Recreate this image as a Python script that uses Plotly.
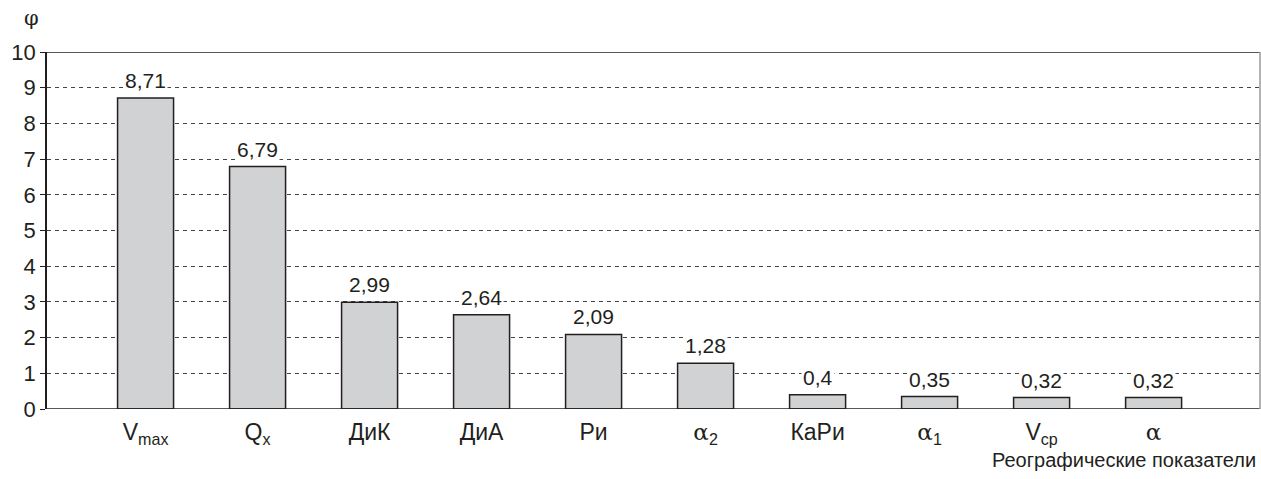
import plotly.graph_objects as go

categories = ["V<sub>max</sub>", "Q<sub>x</sub>", "ДиК", "ДиА", "Ри",
              "<span style='font-family:DejaVu Serif'>α</span><sub>2</sub>", "КаРи",
              "<span style='font-family:DejaVu Serif'>α</span><sub>1</sub>", "V<sub>ср</sub>",
              "<span style='font-family:DejaVu Serif'>α</span>"]
values = [8.71, 6.79, 2.99, 2.64, 2.09, 1.28, 0.4, 0.35, 0.32, 0.32]
labels = ["8,71", "6,79", "2,99", "2,64", "2,09", "1,28", "0,4", "0,35", "0,32", "0,32"]
yticks = list(range(0, 11))

FONT = "Liberation Sans, Arial, sans-serif"
INK = "#231f20"

fig = go.Figure(go.Bar(
    x=categories, y=values,
    marker=dict(color="#d1d2d4", line=dict(color=INK, width=1.5)),
    width=0.5, cliponaxis=False, hoverinfo="x+y",
))

fig.update_layout(
    width=1261, height=479,
    margin=dict(l=47, r=1, t=52, b=70),
    paper_bgcolor="white", plot_bgcolor="white",
    font=dict(family=FONT, color=INK),
    showlegend=False,
    xaxis=dict(type="category", range=[-0.88, 9.95], showgrid=False,
               showline=False, ticks="", tickfont=dict(size=23), zeroline=False,
               ticklabelstandoff=7),
    yaxis=dict(range=[0, 10], tickvals=yticks, ticktext=[str(v) for v in yticks],
               showgrid=True, gridcolor="#444444", griddash="4px,4px", gridwidth=1,
               showline=True, linecolor=INK, linewidth=1.5,
               ticks="outside", ticklen=5, tickcolor=INK,
               tickfont=dict(size=22), zeroline=False),
)

# value labels above bars
for c, v, t in zip(categories, values, labels):
    fig.add_annotation(x=c, y=v, text=t, showarrow=False, yanchor="bottom",
                       yshift=4, bgcolor="white", borderpad=1,
                       font=dict(size=21, color=INK))

# solid top line at 10, bottom line at 0, right frame
fig.add_shape(type="line", xref="paper", yref="y", x0=0, x1=1, y0=10, y1=10,
              line=dict(color=INK, width=1.5))
fig.add_shape(type="line", xref="paper", yref="y", x0=0, x1=1, y0=0, y1=0,
              line=dict(color=INK, width=1.5))
fig.add_shape(type="line", xref="paper", yref="paper", x0=1, x1=1, y0=0, y1=1,
              line=dict(color="#9a9a9a", width=1.5))

fig.add_annotation(text="<span style='font-family:DejaVu Serif'>φ</span>", xref="paper", yref="paper",
                   x=-0.021, y=1.095, yanchor="middle", showarrow=False, font=dict(size=21))
fig.add_annotation(text="Реографические показатели", xref="paper", yref="paper",
                   x=0.9985, y=0, xanchor="right", yanchor="top", yshift=-38,
                   showarrow=False, font=dict(size=20))

fig.write_html("out.html", config={"displayModeBar": False},
               post_script="document.body.style.margin='0';document.body.style.overflow='hidden';")
